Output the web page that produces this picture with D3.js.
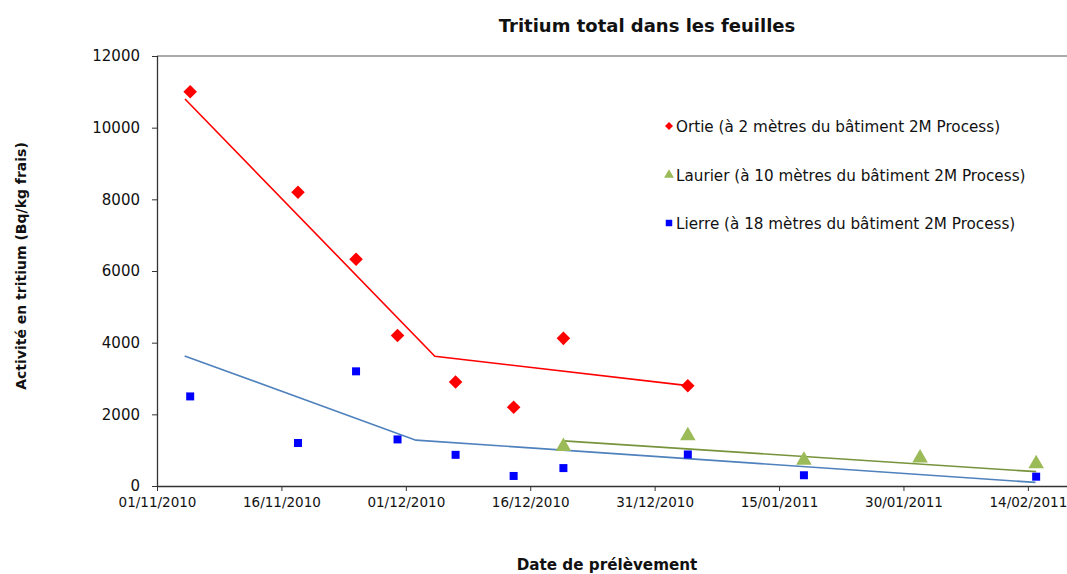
<!DOCTYPE html>
<html><head><meta charset="utf-8">
<script src="https://cdn.jsdelivr.net/npm/d3@7"></script>
<style>
body{margin:0;background:#fff;overflow:hidden}
text{font-family:"DejaVu Sans",Verdana,sans-serif;fill:#111}
</style></head><body>
<svg id="c" width="1067" height="574"></svg>
<script>
// ---- data ----
const ortieDates  = ["2010-11-05","2010-11-18","2010-11-25","2010-11-30","2010-12-07","2010-12-14","2010-12-20","2011-01-04"];
const ortieValues = [11000, 8200, 6330, 4200, 2900, 2200, 4120, 2800];
const lierreDates  = ["2010-11-05","2010-11-18","2010-11-25","2010-11-30","2010-12-07","2010-12-14","2010-12-20","2011-01-04","2011-01-18","2011-02-15"];
const lierreValues = [2500, 1200, 3200, 1300, 870, 280, 500, 880, 300, 260];
const laurierDates  = ["2010-12-20","2011-01-04","2011-01-18","2011-02-01","2011-02-15"];
const laurierValues = [1100, 1400, 720, 780, 620];
// trend lines (as drawn)
const ortieTrendDates   = ["2010-11-04T09:00","2010-12-04T12:00","2011-01-04T00:00"];
const ortieTrendValues  = [10800, 3620, 2800];
const lierreTrendDates  = ["2010-11-04T08:00","2010-12-02T05:00","2011-02-14T22:00"];
const lierreTrendValues = [3630, 1280, 100];
const laurierTrendDates  = ["2010-12-20T00:00","2011-02-15T00:00"];
const laurierTrendValues = [1260, 400];
const xTickDates  = ["2010-11-01","2010-11-16","2010-12-01","2010-12-16","2010-12-31","2011-01-15","2011-01-30","2011-02-14"];
const xTickLabels = ["01/11/2010","16/11/2010","01/12/2010","16/12/2010","31/12/2010","15/01/2011","30/01/2011","14/02/2011"];
const yTicks = [0,2000,4000,6000,8000,10000,12000];
const legendLabels = ["Ortie (à 2 mètres du bâtiment 2M Process)","Laurier (à 10 mètres du bâtiment 2M Process)","Lierre (à 18 mètres du bâtiment 2M Process)"];

const P = s => new Date(s + (s.length===10 ? "T00:00:00Z" : ":00Z"));
const svg = d3.select("#c");
const L=157, T=56, B=486;
const x = d3.scaleUtc().domain([P("2010-11-01"), P("2011-02-20")]).range([L, L + 111*8.294]);
const y = d3.scaleLinear().domain([0,12000]).range([B, T]);

const RED="#ff0000", BLUE="#0000ff", GREEN="#9bbb59", LBLUE="#4f81bd", LGREEN="#77933c";

// top border
svg.append("line").attr("x1",L).attr("x2",1100).attr("y1",T).attr("y2",T).attr("stroke","#555").attr("stroke-width",1);

// axes
const yAxis = svg.append("g").attr("transform",`translate(${L},0)`)
  .call(d3.axisLeft(y).tickValues(yTicks).tickSize(5).tickPadding(12).tickFormat(d3.format("d")));
yAxis.selectAll("text").style("font-size","15px").style("font-family","DejaVu Sans").attr("fill","#111");
const xAxis = svg.append("g").attr("transform",`translate(0,${B})`)
  .call(d3.axisBottom(x).tickValues(xTickDates.map(P)).tickSize(5).tickPadding(6).tickFormat((d,i)=>xTickLabels[i]));
xAxis.selectAll("text").style("font-size","13.5px").style("font-family","DejaVu Sans").attr("fill","#111");
svg.selectAll(".domain").attr("stroke","#333").attr("stroke-width",1.3);
svg.selectAll(".tick line").attr("stroke","#333");
xAxis.select(".domain").attr("d",`M${L},0.5H1100`);
yAxis.select(".domain").attr("d",`M0.5,${T}V${B}`);

// trend lines
const line = d3.line().x(d=>x(d[0])).y(d=>y(d[1]));
function trend(ds, vs, color){
  svg.append("path").datum(ds.map((d,i)=>[P(d),vs[i]])).attr("d",line)
    .attr("fill","none").attr("stroke",color).attr("stroke-width",1.6);
}
trend(ortieTrendDates, ortieTrendValues, RED);
trend(lierreTrendDates, lierreTrendValues, LBLUE);
trend(laurierTrendDates, laurierTrendValues, LGREEN);

// markers
function pts(ds, vs, sym, color, rot){
  svg.append("g").selectAll("path").data(ds.map((d,i)=>[P(d),vs[i]])).join("path")
    .attr("transform",d=>`translate(${x(d[0])},${y(d[1])}) rotate(${rot||0})`)
    .attr("d",sym).attr("fill",color);
}
pts(ortieDates, ortieValues, d3.symbol().type(d3.symbolSquare).size(92), RED, 45);
pts(laurierDates, laurierValues, d3.symbol().type(d3.symbolTriangle).size(105), GREEN);
pts(lierreDates, lierreValues, d3.symbol().type(d3.symbolSquare).size(64), BLUE);

// legend
const lg = svg.append("g");
const ly = [126,175,223];
const legSyms = [
  {t:d3.symbolSquare,s:32,c:RED,r:45},
  {t:d3.symbolTriangle,s:42,c:GREEN,r:0},
  {t:d3.symbolSquare,s:42,c:BLUE,r:0}];
legendLabels.forEach((lab,i)=>{
  lg.append("path").attr("d",d3.symbol().type(legSyms[i].t).size(legSyms[i].s))
    .attr("transform",`translate(669,${ly[i]}) rotate(${legSyms[i].r})`).attr("fill",legSyms[i].c);
  lg.append("text").attr("x",676).attr("y",ly[i]+5.5).style("font-size","15.2px").text(lab);
});

// titles
svg.append("text").attr("x",647).attr("y",32).attr("text-anchor","middle")
  .style("font-size","18px").style("font-weight","bold").text("Tritium total dans les feuilles");
svg.append("text").attr("x",607).attr("y",570).attr("text-anchor","middle")
  .style("font-size","15.2px").style("font-weight","bold").text("Date de prélèvement");
svg.append("text").attr("transform","translate(26,266) rotate(-90)").attr("text-anchor","middle")
  .style("font-size","14px").style("font-weight","bold").text("Activité en tritium (Bq/kg frais)");
</script></body></html>
